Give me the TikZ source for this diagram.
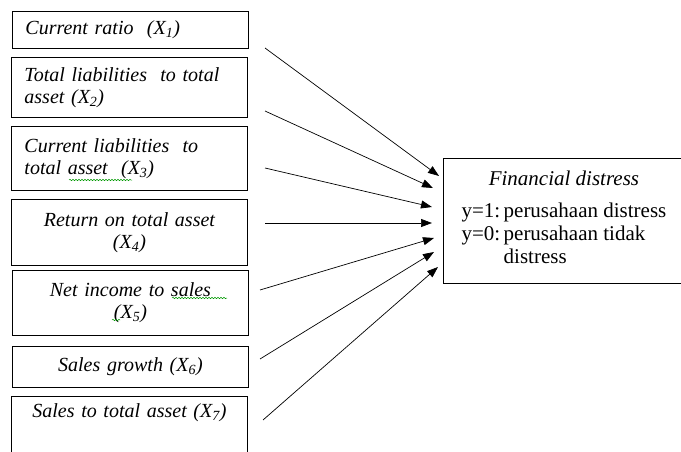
\documentclass[tikz,border=0pt]{standalone}
\usepackage{fontspec}
\setmainfont{Liberation Serif}
\usetikzlibrary{arrows.meta,decorations.pathmorphing}

\tikzset{
  factor/.style={draw, line width=0.9pt, anchor=north west, minimum width=236pt,
    inner xsep=13pt, text width=210pt, font=\itshape\fontsize{20}{22}\selectfont},
  link/.style={line width=0.7pt, -{Triangle[length=11pt,width=8pt]}},
  squiggle/.style={green!60!black, line width=0.5pt,
    decorate, decoration={snake, amplitude=0.7pt, segment length=3pt}}
}
\newcommand{\xvar}[1]{\textit{X}\textsubscript{\textit{#1}}}

\begin{document}
\begin{tikzpicture}[x=1pt, y=-1pt]
  \useasboundingbox (0,0) rectangle (681,452);

  % ---------- independent variables ----------
  \node[factor, align=left, minimum height=37pt] (x1) at (12,11)
       {Current ratio \ (\xvar{1})};
  \node[factor, align=left, minimum height=60pt] (x2) at (11,57)
       {Total liabilities \ to total\\asset (\xvar{2})};
  \node[factor, align=left, minimum height=64pt] (x3) at (11,126)
       {Current liabilities \ to\\total asset \ (\xvar{3})};
  \node[factor, align=center, minimum height=66pt] (x4) at (11,199)
       {Return on total asset\\(\xvar{4})};
  \node[factor, align=center, minimum height=65pt] (x5) at (12,270)
       {Net income to sales\\(\xvar{5})};
  \node[factor, align=center, minimum height=41pt] (x6) at (12,346)
       {Sales growth (\xvar{6})};
  \node[factor, align=center, minimum height=62pt, text depth=34pt] (x7) at (11,396)
       {Sales to total asset (\xvar{7})};

  % ---------- spell-check marks ----------
  \draw[squiggle] (69,180) -- (132,180);
  \draw[squiggle] (172,298) -- (227,298);
  \draw[squiggle] (112,320) -- (120,320);

  % ---------- dependent variable ----------
  \node[draw, line width=0.9pt, anchor=north west, minimum width=241pt, minimum height=125pt,
        align=center, font=\fontsize{21}{23}\selectfont] (fd) at (443,158)
       {\textit{Financial distress}\\[15pt]
        \begin{tabular}{@{}l@{\,}l@{}}
          y=1: & perusahaan distress\\
          y=0: & perusahaan tidak\\
               & distress
        \end{tabular}};

  % ---------- arrows ----------
  \foreach \i/\sx/\sy/\ex/\ey in {1/265/48/439/176, 2/265/111/433/188, 3/265/168/432/207,
      4/265/223/432/223, 5/260/290/434/238, 6/260/359/434/252, 7/263/420/438/267}{
    \coordinate (s\i) at (\sx,\sy);
    \coordinate (e\i) at (\ex,\ey);
    \draw[link] (s\i) -- (e\i);
  }

\end{tikzpicture}
\end{document}
